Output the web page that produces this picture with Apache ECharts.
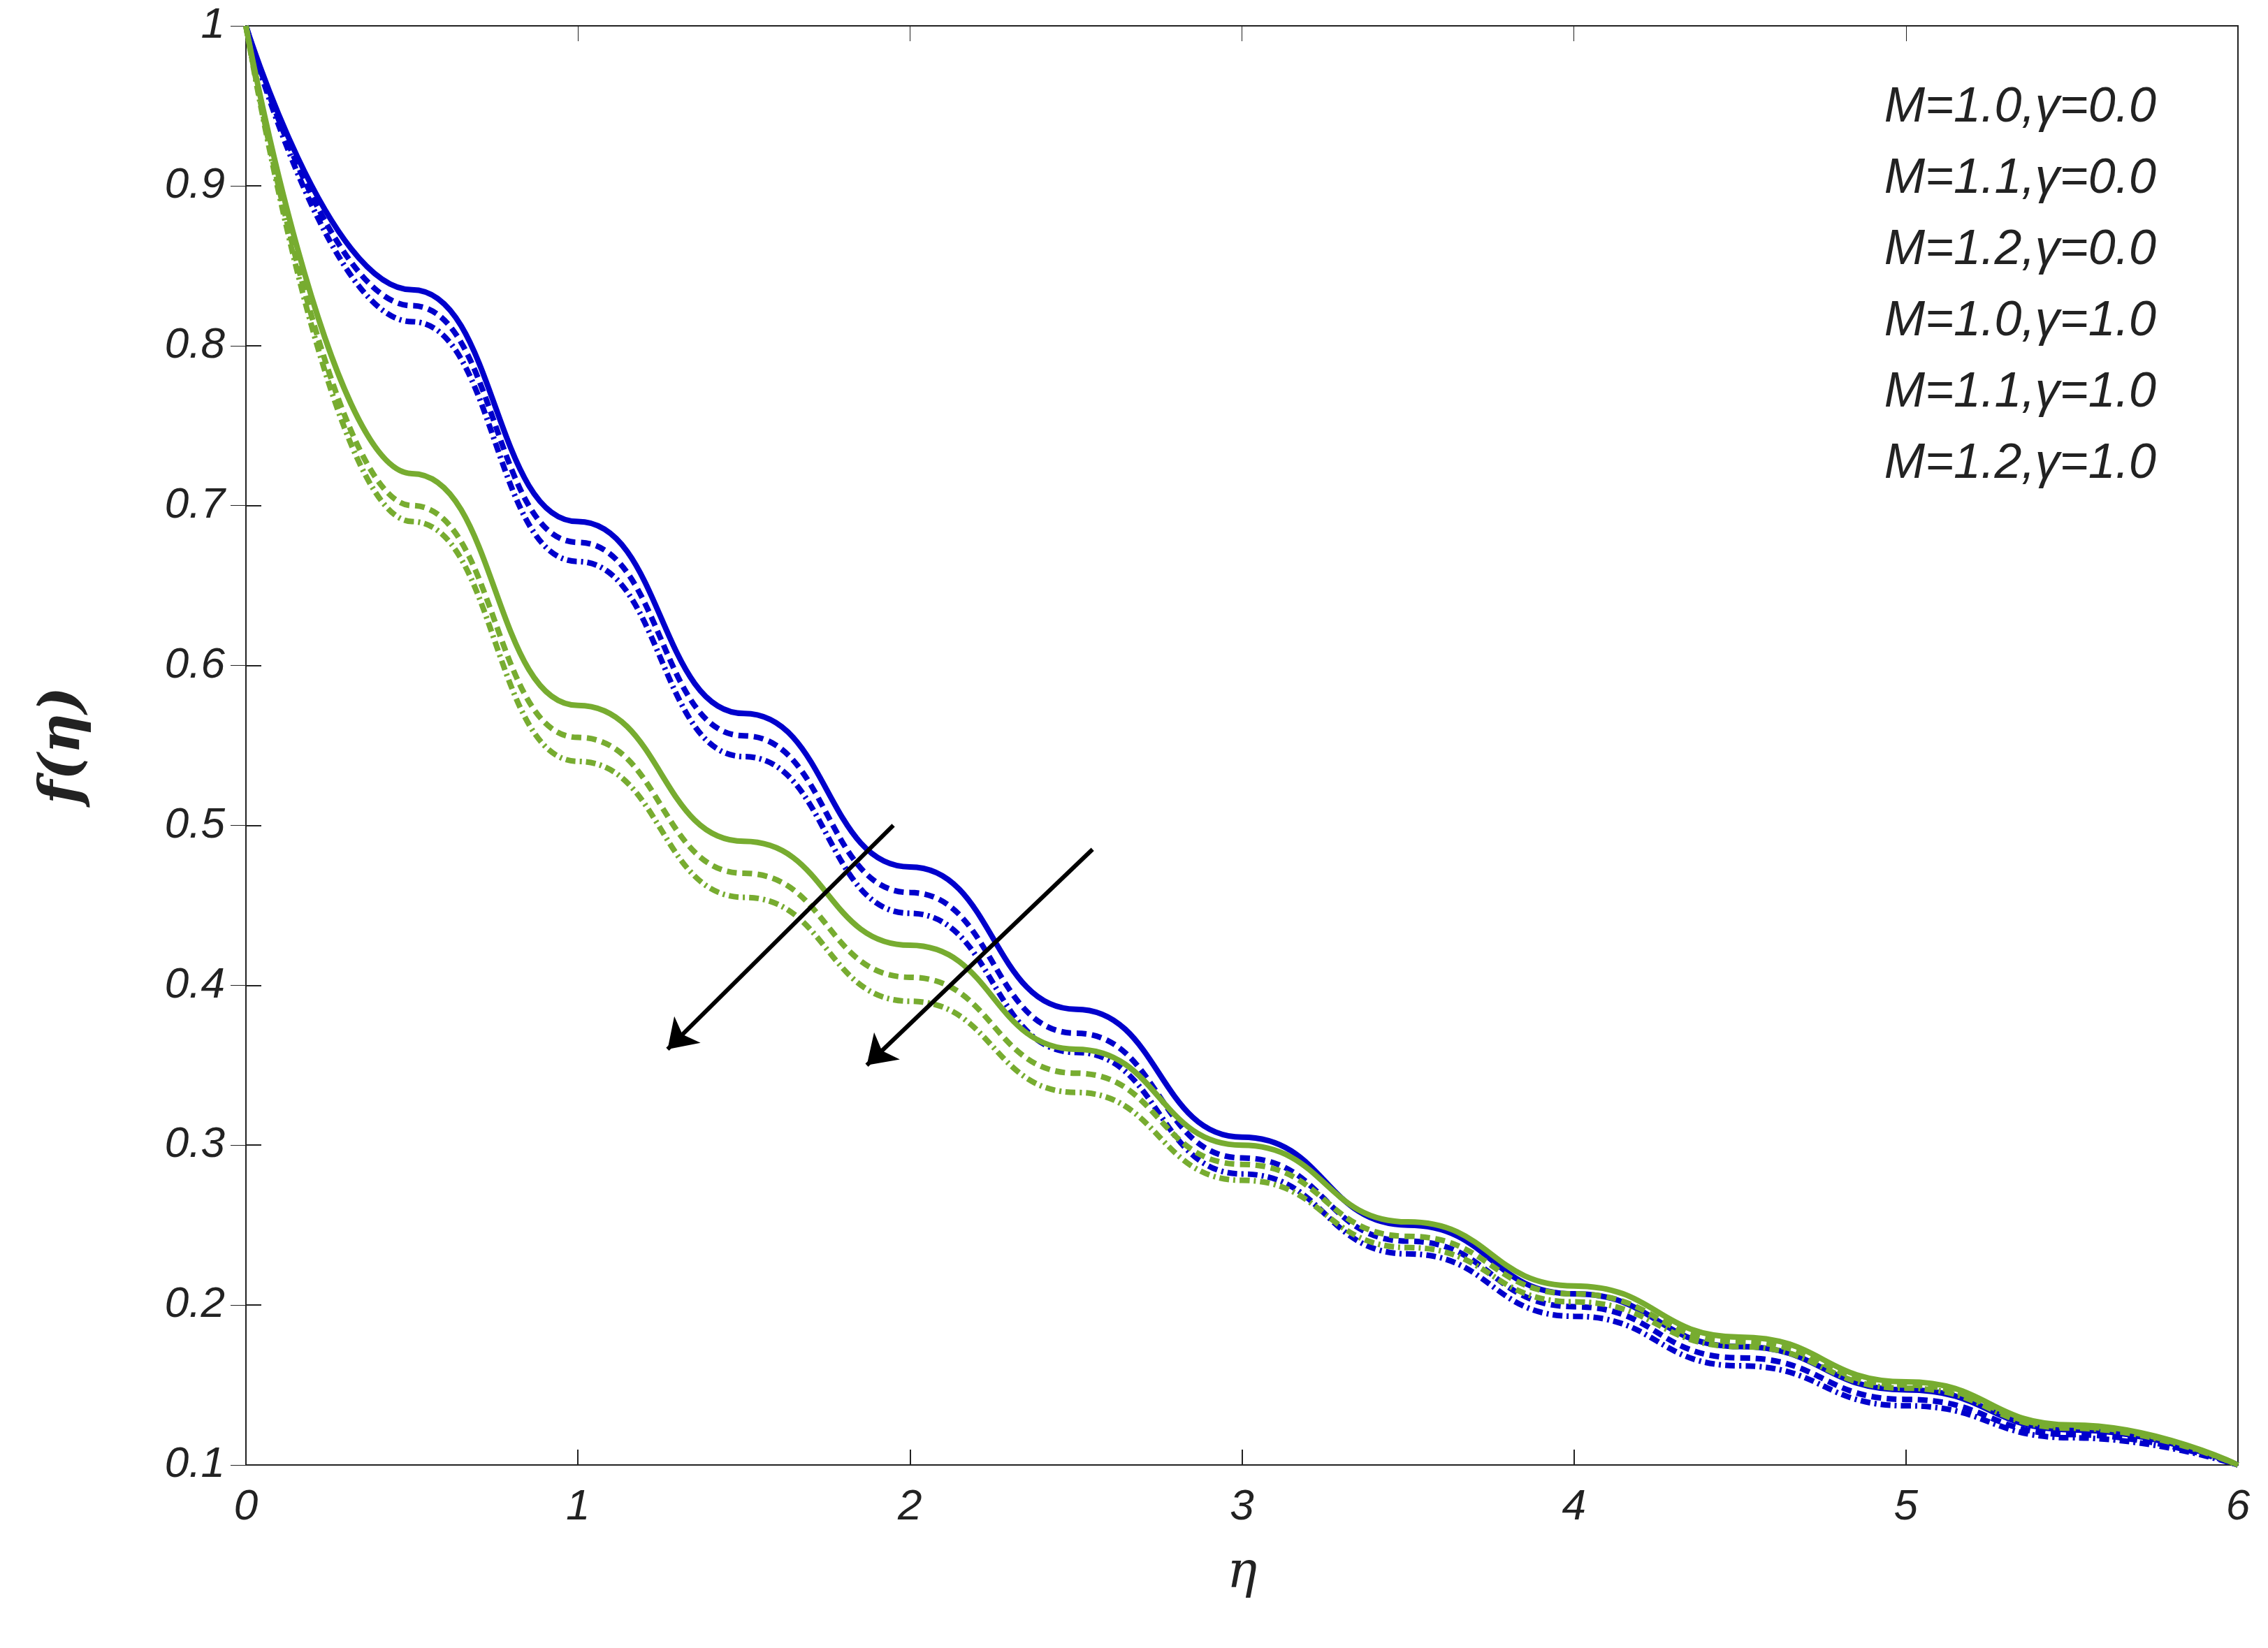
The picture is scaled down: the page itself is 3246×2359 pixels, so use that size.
<!DOCTYPE html>
<html><head><meta charset="utf-8">
<script src="https://cdn.jsdelivr.net/npm/echarts@6/dist/echarts.min.js"></script>
<style>html,body{margin:0;background:#fff}#c{width:3246px;height:2359px}</style>
</head><body><div id="c"></div>
<script>
const eta = [0,0.5,1,1.5,2,2.5,3,3.5,4,4.5,5,5.5,6];
const names = ['M=1.0,\u03b3=0.0','M=1.1,\u03b3=0.0','M=1.2,\u03b3=0.0','M=1.0,\u03b3=1.0','M=1.1,\u03b3=1.0','M=1.2,\u03b3=1.0'];
const b1 = [1,0.835,0.69,0.57,0.474,0.385,0.305,0.25,0.207,0.174,0.147,0.122,0.1];
const b2 = [1,0.825,0.677,0.556,0.458,0.37,0.292,0.24,0.199,0.167,0.141,0.119,0.1];
const b3 = [1,0.815,0.665,0.543,0.445,0.358,0.282,0.232,0.193,0.162,0.137,0.117,0.1];
const g1 = [1,0.72,0.575,0.49,0.425,0.36,0.30,0.252,0.212,0.18,0.152,0.125,0.1];
const g2 = [1,0.70,0.555,0.47,0.405,0.345,0.288,0.243,0.207,0.177,0.15,0.124,0.1];
const g3 = [1,0.69,0.54,0.455,0.39,0.333,0.278,0.236,0.202,0.174,0.148,0.123,0.1];
const arrows = [[[1.95,0.50],[1.27,0.36]],[[2.55,0.485],[1.87,0.35]]];
const blue='#0000CC', green='#77AC30';
const styles=[[blue,'solid'],[blue,[14,8]],[blue,[14,6,3,6]],[green,'solid'],[green,[14,8]],[green,[14,6,3,6]]];
const data=[b1,b2,b3,g1,g2,g3];
const series = data.map((d,i)=>({
  name:names[i], type:'line', smooth:true, smoothMonotone:'x', symbol:'none',
  data: eta.map((x,j)=>[x,d[j]]),
  lineStyle:{color:styles[i][0], type:styles[i][1], width:8},
  itemStyle:{color:styles[i][0]}
}));
series[0].markLine={silent:true, symbol:['none','arrow'], symbolSize:40,
  lineStyle:{color:'#000',type:'solid',width:6}, label:{show:false},
  data: arrows.map(a=>[{coord:a[0]},{coord:a[1]}])};
const axLab={fontSize:62,fontStyle:'italic',color:'#222',fontFamily:'Liberation Sans'};
const chart=echarts.init(document.getElementById('c'));
chart.setOption({
  animation:false,
  grid:{left:352,right:43,top:37,bottom:262,show:true,borderColor:'#222',borderWidth:2},
  legend:{right:140,top:110,orient:'vertical',itemWidth:210,itemHeight:30,itemGap:32,
    icon:'none',itemStyle:{opacity:0},lineStyle:{width:9},
    backgroundColor:'#fff',padding:[10,20],
    textStyle:{fontSize:70,fontStyle:'italic',fontFamily:'Liberation Sans',color:'#222'},
    data:names},
  xAxis:[{type:'value',min:0,max:6,interval:1,name:'\u03b7',nameLocation:'middle',nameGap:120,
    nameTextStyle:{fontSize:72,fontStyle:'italic',fontFamily:'DejaVu Serif'},
    axisLine:{lineStyle:{color:'#222',width:2}},axisTick:{inside:true,length:22,lineStyle:{color:'#222',width:2}},
    axisLabel:Object.assign({margin:30},axLab),splitLine:{show:false}},
    {type:'value',position:'top',min:0,max:6,interval:1,axisLine:{lineStyle:{color:'#222',width:2}},axisTick:{inside:true,length:22,lineStyle:{color:'#222'}},axisLabel:{show:false},splitLine:{show:false}}],
  yAxis:[{type:'value',min:0.1,max:1,interval:0.1,name:'f(\u03b7)',nameLocation:'middle',nameGap:220,
    nameTextStyle:{fontSize:80,fontStyle:'italic',fontWeight:'bold',fontFamily:'DejaVu Serif'},
    axisLine:{lineStyle:{color:'#222',width:2}},axisTick:{inside:true,length:22,lineStyle:{color:'#222',width:2}},
    axisLabel:Object.assign({margin:30,formatter:v=>(Math.round(v*10)/10===1?'1':(Math.round(v*10)/10).toFixed(1))},axLab),splitLine:{show:false}},
    {type:'value',position:'right',min:0.1,max:1,interval:0.1,axisLine:{lineStyle:{color:'#222',width:2}},axisTick:{inside:true,length:22,lineStyle:{color:'#222'}},axisLabel:{show:false},splitLine:{show:false}}],
  series
});
</script></body></html>
